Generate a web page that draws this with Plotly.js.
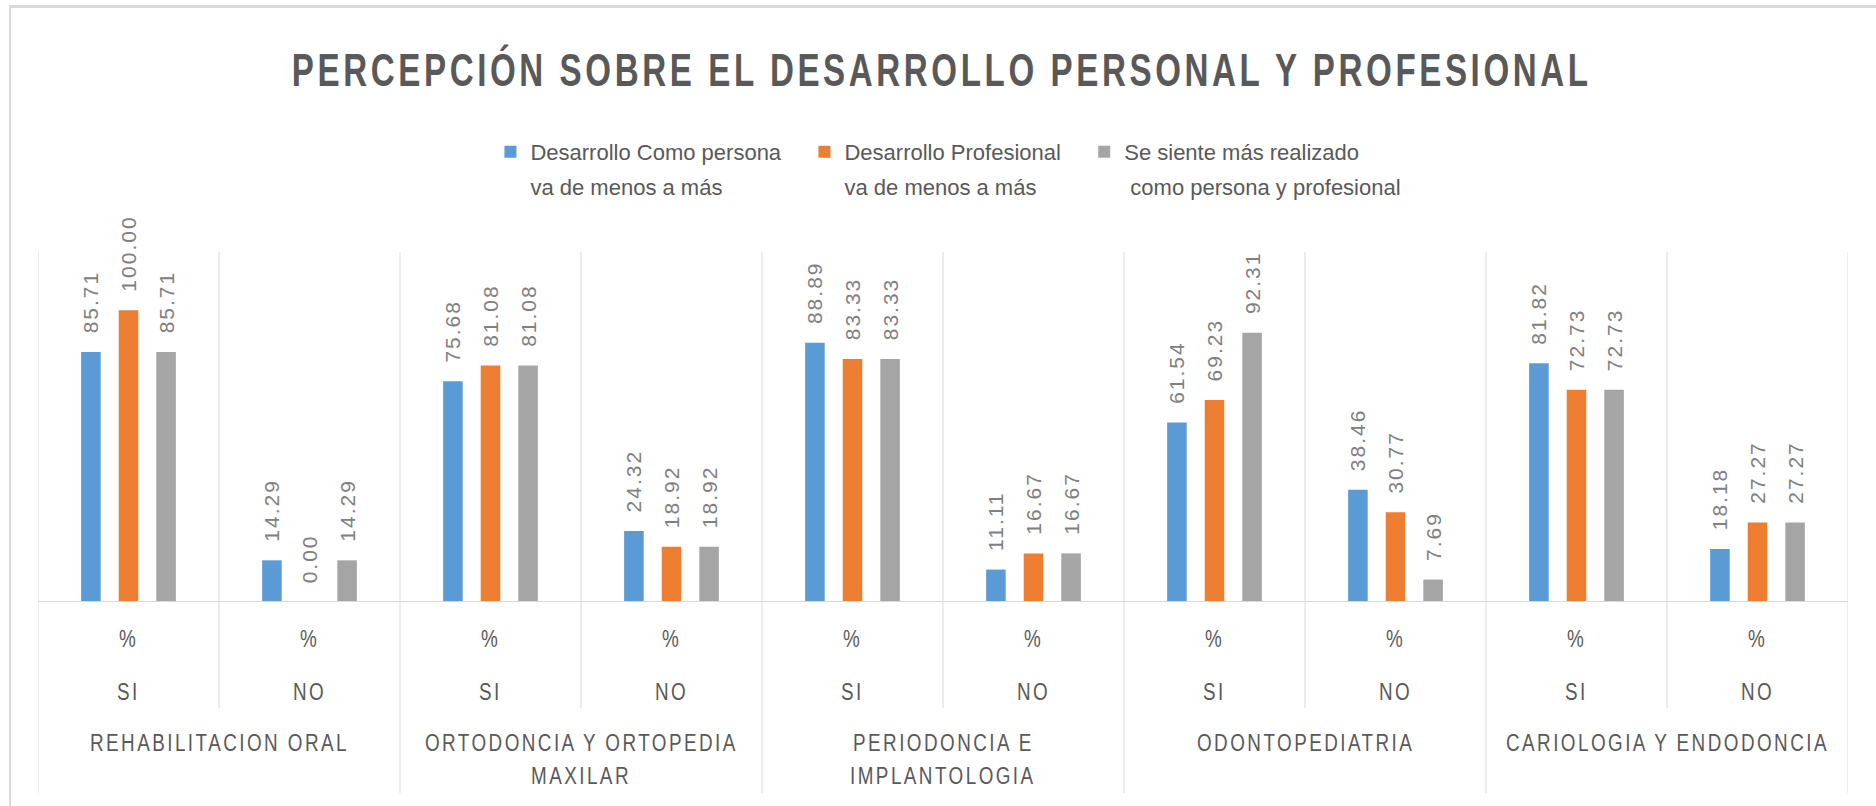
<!DOCTYPE html>
<html>
<head>
<meta charset="utf-8">
<script src="https://cdn.plot.ly/plotly-3.0.1.min.js"></script>
<style>
  html, body { margin: 0; padding: 0; background: #ffffff; }
  #wrap { position: relative; width: 1876px; height: 806px; overflow: hidden; }
  #chart { position: absolute; left: 0; top: 0; width: 1876px; height: 806px; }
  #frame { position: absolute; left: 9px; top: 5px; right: -10px; bottom: -10px;
           border-top: 3px solid #d9d9d9; border-left: 2px solid #d9d9d9; pointer-events: none; }
  .gtitle { letter-spacing: 5px; transform-box: fill-box; transform-origin: center; transform: scaleX(0.72); }
  .bartext { letter-spacing: 2px; }
  .annotation-text { letter-spacing: 3px; transform-box: fill-box; transform-origin: center; transform: scaleX(0.82); }
</style>
</head>
<body>
<div id="wrap">
  <div id="chart"></div>
  <div id="frame"></div>
</div>
<script>
// ---------------- data ----------------
const chartTitle = 'PERCEPCIÓN SOBRE EL DESARROLLO PERSONAL Y PROFESIONAL';
const groupLabels = [
  ['REHABILITACION ORAL'],
  ['ORTODONCIA Y ORTOPEDIA', 'MAXILAR'],
  ['PERIODONCIA E', 'IMPLANTOLOGIA'],
  ['ODONTOPEDIATRIA'],
  ['CARIOLOGIA Y ENDODONCIA']
];
const answerLabels = ['SI', 'NO'];
const unitLabel = '%';
const seriesNames = [
  'Desarrollo Como persona<br>va de menos a más',
  'Desarrollo Profesional<br>va de menos a más',
  'Se siente más realizado<br> como persona y profesional'
];
const desarrolloPersona   = [85.71, 14.29, 75.68, 24.32, 88.89, 11.11, 61.54, 38.46, 81.82, 18.18];
const desarrolloProfesion = [100.00, 0.00, 81.08, 18.92, 83.33, 16.67, 69.23, 30.77, 72.73, 27.27];
const masRealizado        = [85.71, 14.29, 81.08, 18.92, 83.33, 16.67, 92.31, 7.69, 72.73, 27.27];
const seriesColors = ['#5b9bd5', '#ed7d31', '#a5a5a5'];

// ---------------- build ----------------
const catPos = [];
groupLabels.forEach((g, gi) => answerLabels.forEach((a, ai) => catPos.push(gi * answerLabels.length + ai)));

const seriesValues = [desarrolloPersona, desarrolloProfesion, masRealizado];
const pad = '\u00a0\u00a0\u00a0';
const traces = seriesValues.map((vals, s) => ({
  type: 'bar',
  // extra trailing space on the first line widens the gap between legend entries
  name: s < seriesNames.length - 1 ? seriesNames[s].replace('<br>', pad + '<br>') : seriesNames[s],
  x: catPos,
  y: vals,
  marker: { color: seriesColors[s] },
  texttemplate: '\u00a0\u00a0%{y:.2f}',
  textposition: 'outside',
  textangle: -90,
  constraintext: 'none',
  cliponaxis: false,
  textfont: { family: 'Liberation Sans, Arial, sans-serif', size: 21, color: '#808080' },
  hoverinfo: 'skip'
}));

const labelFont = { family: 'Liberation Sans, Arial, sans-serif', size: 23, color: '#595959' };
const annotations = [];
const shapes = [];
catPos.forEach((p, i) => {
  annotations.push({ x: p, y: -0.103, xref: 'x', yref: 'paper', text: unitLabel, showarrow: false,
                     xanchor: 'center', yanchor: 'middle', font: labelFont });
  annotations.push({ x: p, y: -0.257, xref: 'x', yref: 'paper', text: answerLabels[i % answerLabels.length],
                     showarrow: false, xanchor: 'center', yanchor: 'middle', font: labelFont });
});
groupLabels.forEach((lines, gi) => {
  const center = gi * answerLabels.length + (answerLabels.length - 1) / 2;
  lines.forEach((ln, li) => {
    annotations.push({ x: center, y: -0.40 - li * 0.097, xref: 'x', yref: 'paper', text: ln, showarrow: false,
                       xanchor: 'center', yanchor: 'middle', font: labelFont });
  });
});
for (let b = 0; b <= catPos.length; b++) {
  const isGroupEdge = b % answerLabels.length === 0;
  shapes.push({ type: 'line', xref: 'x', yref: 'paper', x0: b - 0.5, x1: b - 0.5,
                y0: isGroupEdge ? -0.546 : -0.303, y1: 1, layer: 'below',
                line: { color: '#d9d9d9', width: 1 } });
}
shapes.push({ type: 'line', xref: 'paper', yref: 'y', x0: 0, x1: 1, y0: 0, y1: 0,
              line: { color: '#d9d9d9', width: 2 } });

const layout = {
  width: 1876, height: 806,
  margin: { l: 38, r: 28, t: 252, b: 204 },
  paper_bgcolor: '#ffffff', plot_bgcolor: '#ffffff',
  showlegend: true,
  title: {
    text: chartTitle,
    x: 0.502, xref: 'container', xanchor: 'center',
    y: 0.913, yref: 'container', yanchor: 'middle',
    font: { family: 'Liberation Sans, Arial, sans-serif', size: 46, weight: 'bold', color: '#595959' }
  },
  legend: {
    orientation: 'h', x: 0.503, xanchor: 'center', y: 1.346, yanchor: 'top',
    valign: 'top', traceorder: 'normal',
    font: { family: 'Liberation Sans, Arial, sans-serif', size: 22, color: '#595959' },
    itemclick: false, itemdoubleclick: false
  },
  barmode: 'group',
  bargap: 0.377,
  bargroupgap: 0.48,
  xaxis: {
    range: [-0.5, catPos.length - 0.5], showticklabels: false, showgrid: false, zeroline: false,
    showline: false, ticks: '', fixedrange: true
  },
  yaxis: {
    range: [0, 120], showticklabels: false, showgrid: false, zeroline: false, showline: false,
    ticks: '', fixedrange: true
  },
  annotations: annotations,
  shapes: shapes
};

Plotly.newPlot('chart', traces, layout, { displayModeBar: false, staticPlot: true }).then(() => {
  // wider line spacing in the legend entries, as in the original
  document.querySelectorAll('#chart .legendtext').forEach(t => {
    t.querySelectorAll('tspan.line').forEach(ts => {
      const dy = ts.getAttribute('dy');
      if (dy && parseFloat(dy) !== 0) {
        ts.setAttribute('dy', (parseFloat(dy) * 1.6 / 1.3).toFixed(3) + 'em');
      }
    });
  });
});
</script>
</body>
</html>
